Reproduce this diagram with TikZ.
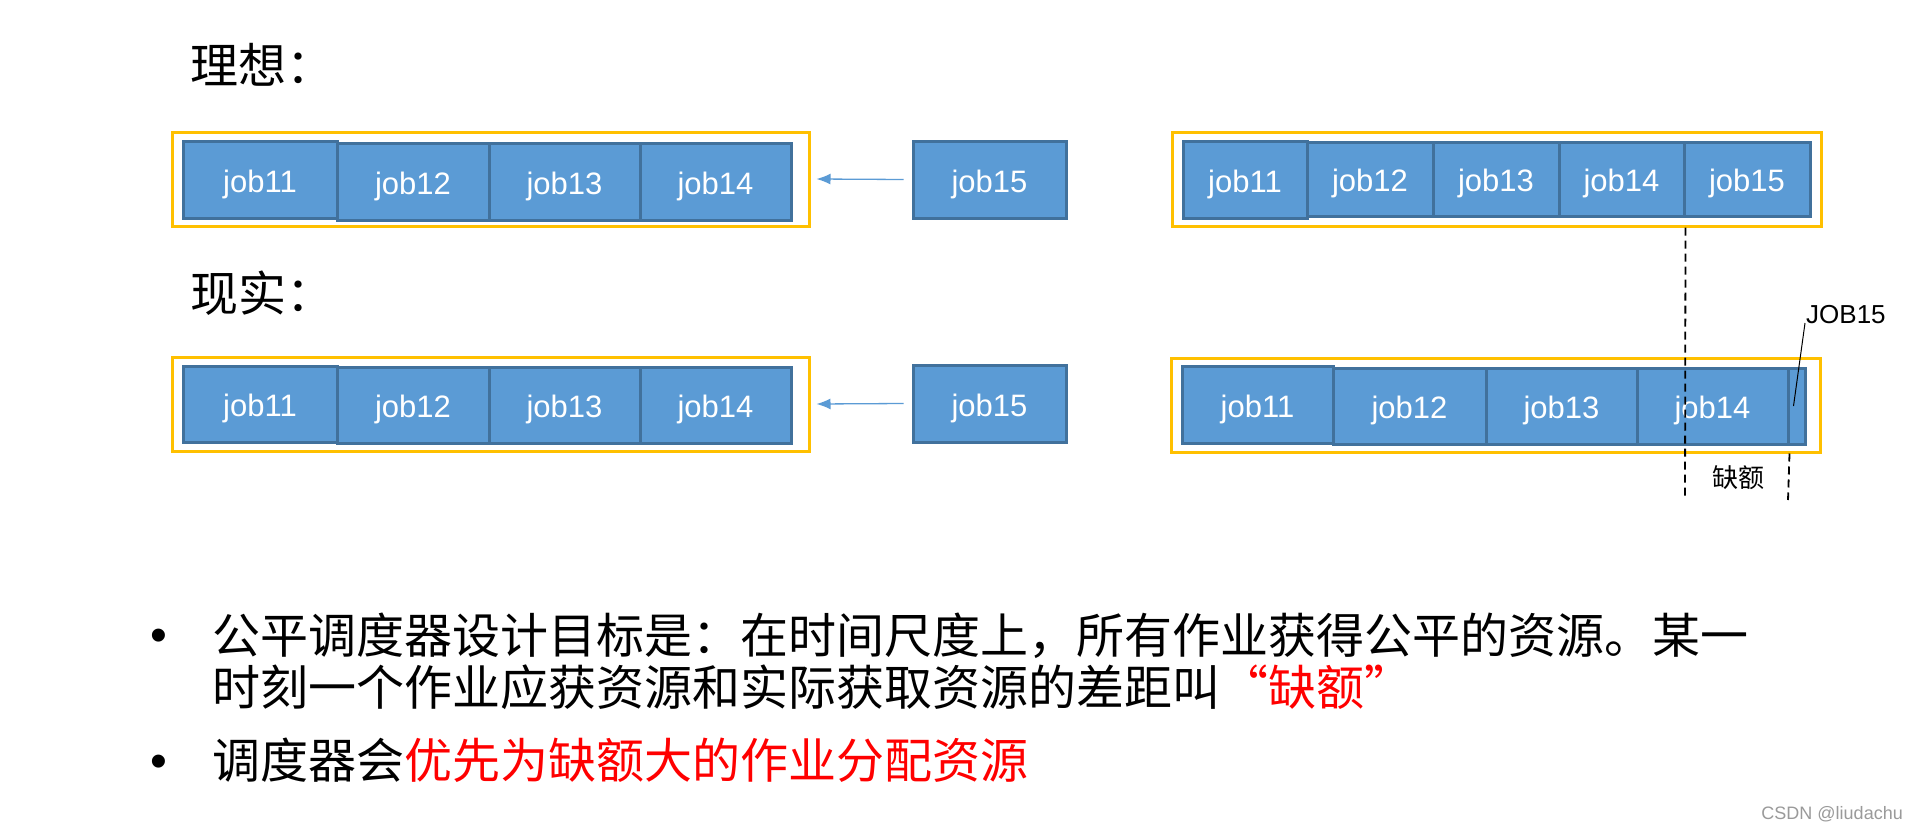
\documentclass[tikz,border=0pt]{standalone}
\usepackage{fontspec}
\setmainfont{Noto Sans CJK SC}
\newfontfamily\arialf{Liberation Sans}
\usetikzlibrary{arrows.meta}
\definecolor{jobfill}{HTML}{5B9BD5}
\definecolor{jobedge}{HTML}{41719C}
\definecolor{frameyel}{HTML}{FFC000}
\definecolor{linkblue}{HTML}{5B9BD5}
\definecolor{markgray}{HTML}{9A9A9A}
\begin{document}
\begin{tikzpicture}[x=1pt,y=-1pt,
  jobbox/.style={draw=jobedge, fill=jobfill, line width=3pt, inner sep=0pt,
    text=white, font=\arialf\fontsize{31}{31}\selectfont,
    text height=25pt, text depth=0pt},
  jb/.style 2 args={jobbox, minimum width=#1pt, minimum height=#2pt},
  frame/.style 2 args={draw=frameyel, line width=3pt, inner sep=0pt,
    minimum width=#1pt, minimum height=#2pt},
  title/.style={anchor=base west, inner sep=0pt, font=\fontsize{48}{48}\selectfont},
  bodytext/.style={anchor=base west, inner sep=0pt, font=\fontsize{48}{48}\selectfont},
  bulletmark/.style={anchor=base, inner sep=0pt, font=\arialf\fontsize{48}{48}\selectfont},
  link/.style={draw=linkblue, line width=1.3pt, -{Latex[length=14pt,width=11pt]}},
  gapline/.style={draw=black, line width=1.8pt, dash pattern=on 8pt off 5pt},
  leader/.style={draw=black, line width=1pt},
  smalllabel/.style={inner sep=0pt, font=\fontsize{26}{26}\selectfont},
]
\fill[white] (0,0) rectangle (1919,830);
\useasboundingbox (0,0) rectangle (1919,830);

% titles
\node[title] (t1) at (190,83) {理想：};
\node[title] (t2) at (190,311) {现实：};

% ideal, left
\node[frame={637}{94}] (ideal1) at (490.5,179) {};
\node[jb={154}{77}] (a11) at (260,179.5) {job11};
\node[jb={152}{77}] (a12) at (413,181.5) {job12};
\node[jb={151}{77}] (a13) at (564.5,181.5) {job13};
\node[jb={151}{77}] (a14) at (715.5,181.5) {job14};
\node[jb={153}{77}] (a15) at (989.5,179.5) {job15};
\draw[link] ([xshift=-8pt]a15.west) -- ([xshift=6pt]ideal1.east);

% ideal, right
\node[frame={649}{94}] (ideal2) at (1496.5,179) {};
\node[jb={124}{77}] (b11) at (1245,179.5) {job11};
\node[jb={126}{74}] (b12) at (1370,179) {job12};
\node[jb={126}{74}] (b13) at (1496,179) {job13};
\node[jb={125}{74}] (b14) at (1621.5,179) {job14};
\node[jb={126}{74}] (b15) at (1747,179) {job15};

% real, left
\node[frame={637}{94}] (real1) at (490.5,404) {};
\node[jb={154}{76}] (c11) at (260,404) {job11};
\node[jb={152}{76}] (c12) at (413,405) {job12};
\node[jb={151}{76}] (c13) at (564.5,405) {job13};
\node[jb={151}{76}] (c14) at (715.5,405) {job14};
\node[jb={153}{77}] (c15) at (989.5,403.5) {job15};
\draw[link] ([xshift=-8pt]c15.west) -- ([xshift=6pt]real1.east);

% real, right
\node[frame={649}{94}] (real2) at (1495.5,405) {};
\node[jb={151}{77}] (d11) at (1257.5,404.5) {job11};
\node[jb={153}{76}] (d12) at (1409.5,406) {job12};
\node[jb={151}{76}] (d13) at (1561.5,406) {job13};
\node[jb={151}{76}] (d14) at (1712.5,406) {job14};
\node[jb={17}{76}] (d15) at (1796.5,406) {};

% gap markers
\coordinate (q1) at (1685,500);
\coordinate (q2) at (1788,500);
\draw[gapline] (ideal2.south -| b14.east) -- (q1);
\draw[gapline] (real2.south -| d14.east) -- (q2);
\node[smalllabel] (gap) at (1738,478) {缺额};

% JOB15 label
\node[anchor=west, inner sep=0pt, font=\arialf\fontsize{26}{26}\selectfont] (jl) at (1806,315) {JOB15};
\coordinate (jlfoot) at (1805,323);
\draw[leader] (jlfoot) -- ([xshift=-3pt]d15.center);

% bullets
\node[bulletmark] (bu1) at (159,651) {•};
\node[bulletmark] (bu2) at (159,777) {•};
\node[bodytext] (l1) at (212,653) {公平调度器设计目标是：在时间尺度上，所有作业获得公平的资源。某一};
\node[bodytext] (l2) at (212,705) {时刻一个作业应获资源和实际获取资源的差距叫\textcolor{red}{“缺额”}};
\node[bodytext] (l3) at (212,778) {调度器会\textcolor{red}{优先为缺额大的作业分配资源}};

% watermark
\node[anchor=base east, inner sep=0pt, text=markgray, font=\arialf\fontsize{18}{18}\selectfont] (wm) at (1903,819) {CSDN @liudachu};
\end{tikzpicture}
\end{document}
